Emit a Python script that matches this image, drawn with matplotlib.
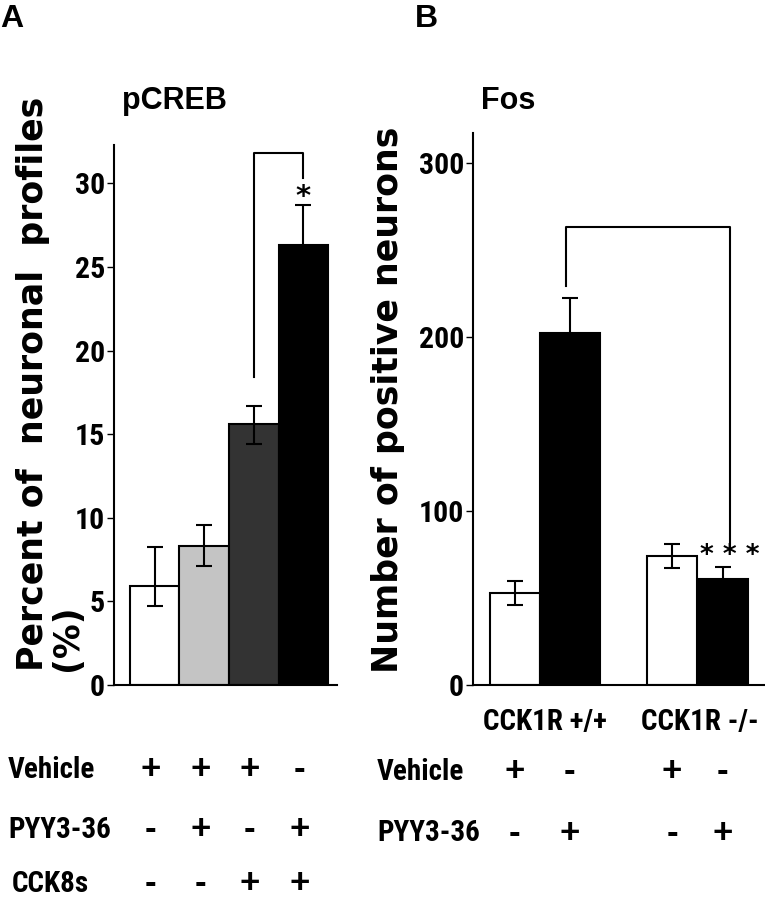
import matplotlib
matplotlib.use("Agg")
import matplotlib.pyplot as plt
import matplotlib.transforms as mtransforms
from matplotlib import font_manager

# Panel A: pCREB (% of neuronal profiles)
a_values = [5.9, 8.3, 15.6, 26.3]
a_err_low = [1.2, 1.2, 1.2, 2.3]
a_err_high = [2.35, 1.3, 1.1, 2.4]
a_colors = ["white", "#c4c4c4", "#333333", "black"]
a_vehicle = ["+", "+", "+", "-"]
a_pyy = ["-", "+", "-", "+"]
a_cck = ["-", "-", "+", "+"]
a_ticks = [0, 5, 10, 15, 20, 25, 30]

# Panel B: Fos positive neurons
b_values = [53, 202, 74, 61]
b_err = [7, 20, 7, 6.5]
b_colors = ["white", "black", "white", "black"]
b_groups = ["CCK1R +/+", "CCK1R -/-"]
b_vehicle = ["+", "-", "+", "-"]
b_pyy = ["-", "+", "-", "+"]
b_ticks = [0, 100, 200, 300]

# condensed face if one is installed, else plain Liberation Sans a bit smaller
names = {f.name for f in font_manager.fontManager.ttflist}
narrow, nsize = "Liberation Sans", 18
for cand in ("Liberation Sans Narrow", "Roboto Condensed", "Open Sans Condensed",
             "Arial Narrow", "DejaVu Sans Condensed"):
    if cand in names:
        narrow, nsize = cand, 21
        break

W, H = 765, 899
fig = plt.figure(figsize=(W / 100, H / 100), dpi=100)


def fx(px):
    return px / W


def fy(py):
    return 1 - py / H


def style_axis(ax):
    for s in ("top", "right"):
        ax.spines[s].set_visible(False)
    ax.spines["left"].set_linewidth(1.5)
    ax.spines["bottom"].set_linewidth(1.5)
    ax.tick_params(axis="y", length=5, width=1, labelsize=nsize + 0.5, pad=1.5)
    ax.tick_params(axis="x", length=0, labelbottom=False)
    for lab in ax.get_yticklabels():
        lab.set_fontfamily(narrow)
        lab.set_fontweight("bold")


# ---- Panel A ----
axA = fig.add_axes([fx(114), fy(685), fx(337) - fx(114), fy(145) - fy(685)])
xa = [0, 1, 2, 3]
axA.bar(xa, a_values, width=1.0, color=a_colors, edgecolor="black", linewidth=1.5, zorder=2)
axA.errorbar(xa, a_values, yerr=[a_err_low, a_err_high], fmt="none", ecolor="black",
             elinewidth=1.5, capsize=6, capthick=1.5, zorder=3)
axA.set_xlim(-0.82, 3.68)
axA.set_ylim(0, 32.3)
axA.set_yticks(a_ticks)
style_axis(axA)

# significance bracket
axA.plot([xa[2], xa[2], xa[3], xa[3]], [18.4, 31.8, 31.8, 30.3], color="black", lw=1.5, clip_on=False)
axA.text(xa[3], 29.2, "*", ha="center", va="center", fontsize=21, fontweight="bold")

fig.text(fx(174), fy(101), "pCREB", ha="center", va="center", fontsize=22, fontweight="bold",
         family="Liberation Sans")
fig.text(fx(33), fy(671), "Percent of  neuronal  profiles", rotation=90, ha="center", va="bottom",
         fontsize=25, fontweight="bold", family="DejaVu Sans")
fig.text(fx(67), fy(671), "(%)", rotation=90, ha="center", va="bottom",
         fontsize=25, fontweight="bold", family="DejaVu Sans")

transA = mtransforms.blended_transform_factory(axA.transData, fig.transFigure)
for label, signs, y in (("Vehicle", a_vehicle, 770), ("PYY3-36", a_pyy, 830), ("CCK8s", a_cck, 884)):
    fig.text(fx(8 if label != "CCK8s" else 12), fy(y), label, ha="left", va="center",
             fontsize=nsize, fontweight="bold", family=narrow)
    for x, s in zip(xa, signs):
        axA.text(x - 0.08, fy(y), s, transform=transA, ha="center", va="center",
                 fontsize=25, fontweight="bold", family="Liberation Sans")

fig.text(fx(0), fy(19), "A", ha="left", va="center", fontsize=23, fontweight="bold", family="Liberation Sans")

# ---- Panel B ----
axB = fig.add_axes([fx(473), fy(685), 1 - fx(473), fy(133) - fy(685)])
xb = [0, 1.1, 3.15, 4.16]
bw = [1.0, 1.2, 1.0, 1.0]
axB.bar(xb, b_values, width=bw, color=b_colors, edgecolor="black", linewidth=1.5, zorder=2)
axB.errorbar(xb, b_values, yerr=b_err, fmt="none", ecolor="black",
             elinewidth=1.5, capsize=6, capthick=1.5, zorder=3)
axB.set_xlim(-0.83, 5.01)
axB.set_ylim(0, 317)
axB.set_yticks(b_ticks)
style_axis(axB)

axB.plot([xb[1] - 0.08, xb[1] - 0.08, xb[3] + 0.15, xb[3] + 0.15], [229, 263, 263, 79],
         color="black", lw=1.5, clip_on=False)
axB.text(xb[3] + 0.15, 74, "* * *", ha="center", va="center", fontsize=19, fontweight="bold")

fig.text(fx(508), fy(101), "Fos", ha="center", va="center", fontsize=22, fontweight="bold",
         family="Liberation Sans")
fig.text(fx(388), fy(673), "Number of positive neurons", rotation=90, ha="center", va="bottom",
         fontsize=25, fontweight="bold", family="DejaVu Sans")

transB = mtransforms.blended_transform_factory(axB.transData, fig.transFigure)
for i, g in enumerate(b_groups):
    gx = (xb[2 * i] + xb[2 * i + 1]) / 2
    axB.text(gx + 0.05, fy(722), g, transform=transB, ha="center", va="center",
             fontsize=nsize, fontweight="bold", family=narrow)
for label, signs, y in (("Vehicle", b_vehicle, 772), ("PYY3-36", b_pyy, 833)):
    fig.text(fx(377), fy(y), label, ha="left", va="center", fontsize=nsize,
             fontweight="bold", family=narrow)
    for x, s in zip(xb, signs):
        axB.text(x, fy(y), s, transform=transB, ha="center", va="center",
                 fontsize=25, fontweight="bold", family="Liberation Sans")

fig.text(fx(415), fy(19), "B", ha="left", va="center", fontsize=23, fontweight="bold", family="Liberation Sans")

fig.savefig("out.png", dpi=100)
